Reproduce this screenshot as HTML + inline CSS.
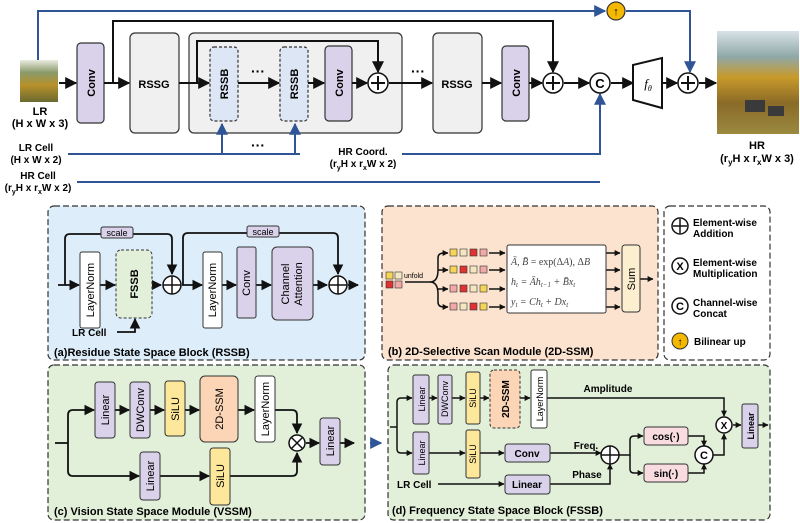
<!DOCTYPE html>
<html><head><meta charset="utf-8"><style>
html,body{margin:0;padding:0;background:#fff;}
svg{display:block;font-family:"Liberation Sans",sans-serif;}
.b{font-weight:bold;}
</style></head><body>
<svg width="800" height="523" viewBox="0 0 800 523" xmlns="http://www.w3.org/2000/svg">
<defs>
<marker id="ak" viewBox="0 0 10 10" refX="9" refY="5" markerWidth="6" markerHeight="6" orient="auto"><path d="M0,0 L10,5 L0,10 z" fill="#111"/></marker>
<marker id="as" viewBox="0 0 10 10" refX="9" refY="5" markerWidth="4" markerHeight="4" orient="auto"><path d="M0,0 L10,5 L0,10 z" fill="#111"/></marker>
<marker id="ab" viewBox="0 0 10 10" refX="9" refY="5" markerWidth="6" markerHeight="6" orient="auto"><path d="M0,0 L10,5 L0,10 z" fill="#2f5597"/></marker>
<linearGradient id="lr" x1="0" y1="0" x2="0" y2="1"><stop offset="0" stop-color="#e8ece0"/><stop offset="0.3" stop-color="#8a9a6a"/><stop offset="0.6" stop-color="#b8902a"/><stop offset="1" stop-color="#6a6a30"/></linearGradient>
<linearGradient id="hr" x1="0" y1="0" x2="0" y2="1"><stop offset="0" stop-color="#d8e2e8"/><stop offset="0.25" stop-color="#8fa8a8"/><stop offset="0.45" stop-color="#c89a2a"/><stop offset="0.7" stop-color="#8a6a28"/><stop offset="1" stop-color="#9a8a40"/></linearGradient>
</defs>

<!-- ===== TOP ===== -->
<g fill="none" stroke-width="2">
<path d="M38,60 V11 H605" stroke="#2f5597" marker-end="url(#ab)"/>
<path d="M626,11 H690 V72" stroke="#2f5597" marker-end="url(#ab)"/>
<path d="M113,83 V21 H553 V72" stroke="#111" marker-end="url(#ak)"/>
<path d="M68,154 H300 M402,154 H600 V94" stroke="#2f5597" marker-end="url(#ab)"/>
<path d="M77,182 H600" stroke="#2f5597"/>
</g>
<rect x="20" y="60" width="38" height="42" fill="url(#lr)"/>
<text x="40" y="115" class="b" font-size="11" text-anchor="middle">LR</text>
<text x="40" y="127" class="b" font-size="11" text-anchor="middle">(H x W x 3)</text>
<rect x="189" y="33" width="213" height="100" rx="5" fill="#f0f0f0" stroke="#333" stroke-width="1.2"/>
<path d="M197,83 V41 H378 V72" fill="none" stroke="#111" stroke-width="2" marker-end="url(#ak)"/>
<g fill="none" stroke-width="2" stroke="#2f5597">
<path d="M222,154 V124" marker-end="url(#ab)"/>
<path d="M295,154 V124" marker-end="url(#ab)"/>
</g>
<rect x="77" y="43" width="27" height="80" rx="4" fill="#d9d2ea" stroke="#333" stroke-width="1.2"/>
<text transform="translate(95,83) rotate(-90)" class="b" font-size="11" text-anchor="middle">Conv</text>
<rect x="130" y="33" width="49" height="100" rx="5" fill="#f0f0f0" stroke="#333" stroke-width="1.2"/>
<text x="154" y="88" class="b" font-size="11" text-anchor="middle">RSSG</text>
<rect x="210" y="47" width="28" height="74" rx="4" fill="#dce6f5" stroke="#333" stroke-width="1.2" stroke-dasharray="3,2"/>
<text transform="translate(228,84) rotate(-90)" class="b" font-size="11" text-anchor="middle">RSSB</text>
<rect x="280" y="47" width="28" height="74" rx="4" fill="#dce6f5" stroke="#333" stroke-width="1.2" stroke-dasharray="3,2"/>
<text transform="translate(298,84) rotate(-90)" class="b" font-size="11" text-anchor="middle">RSSB</text>
<rect x="325" y="46" width="27" height="75" rx="4" fill="#d9d2ea" stroke="#333" stroke-width="1.2"/>
<text transform="translate(343,83) rotate(-90)" class="b" font-size="11" text-anchor="middle">Conv</text>
<rect x="433" y="33" width="49" height="100" rx="5" fill="#f0f0f0" stroke="#333" stroke-width="1.2"/>
<text x="457" y="88" class="b" font-size="11" text-anchor="middle">RSSG</text>
<rect x="502" y="46" width="27" height="75" rx="4" fill="#d9d2ea" stroke="#333" stroke-width="1.2"/>
<text transform="translate(520,83) rotate(-90)" class="b" font-size="11" text-anchor="middle">Conv</text>
<g stroke="#111" stroke-width="2" fill="none">
<path d="M59,83 H76" marker-end="url(#ak)"/>
<path d="M104,83 H129" marker-end="url(#ak)"/>
<path d="M179,83 H209" marker-end="url(#ak)"/>
<path d="M238,83 H279" marker-end="url(#ak)"/>
<path d="M308,83 H324" marker-end="url(#ak)"/>
<path d="M352,83 H367" marker-end="url(#ak)"/>
<path d="M389,83 H432" marker-end="url(#ak)"/>
<path d="M482,83 H501" marker-end="url(#ak)"/>
<path d="M529,83 H542" marker-end="url(#ak)"/>
<path d="M564,83 H589" marker-end="url(#ak)"/>
<path d="M611,83 H633" marker-end="url(#ak)"/>
<path d="M662,83 H677" marker-end="url(#ak)"/>
<path d="M699,83 H716" marker-end="url(#ak)"/>
</g>
<text x="258" y="76" class="b" font-size="14" text-anchor="middle">···</text>
<text x="258" y="150" class="b" font-size="14" text-anchor="middle">···</text>
<text x="418" y="76" class="b" font-size="14" text-anchor="middle">···</text>
<g fill="#fff" stroke="#111" stroke-width="1.5">
<circle cx="378" cy="83" r="10"/><circle cx="553" cy="83" r="10"/><circle cx="600" cy="83" r="10"/><circle cx="688" cy="83" r="10"/>
</g>
<g stroke="#111" stroke-width="2">
<path d="M371,83 H385 M378,76 V90"/><path d="M546,83 H560 M553,76 V90"/><path d="M681,83 H695 M688,76 V90"/>
</g>
<text x="600" y="88" class="b" font-size="13" text-anchor="middle">C</text>
<circle cx="616" cy="11" r="9" fill="#f5b800" stroke="#333" stroke-width="1.2"/>
<text x="616" y="15" class="b" font-size="11" text-anchor="middle">↑</text>
<path d="M633,65 L662,58 L662,108 L633,100 Z" fill="#fff" stroke="#111" stroke-width="2"/>
<text x="648" y="88" font-size="13" font-style="italic" text-anchor="middle" font-family="Liberation Serif">f<tspan font-size="8" dy="3">θ</tspan></text>
<rect x="717" y="31" width="82" height="103" fill="url(#hr)"/>
<rect x="745" y="100" width="20" height="12" fill="#3a3a3a"/><rect x="768" y="106" width="16" height="10" fill="#3a3a3a"/>
<text x="757" y="149" class="b" font-size="11" text-anchor="middle">HR</text>
<text x="757" y="162" class="b" font-size="11" text-anchor="middle">(r<tspan font-size="8" dy="3">y</tspan><tspan dy="-3">H x r</tspan><tspan font-size="8" dy="3">x</tspan><tspan dy="-3">W x 3)</tspan></text>
<text x="36" y="151" class="b" font-size="10" text-anchor="middle">LR Cell</text>
<text x="36" y="163" class="b" font-size="10" text-anchor="middle">(H x W x 2)</text>
<text x="38" y="179" class="b" font-size="10" text-anchor="middle">HR Cell</text>
<text x="38" y="191" class="b" font-size="10" text-anchor="middle">(r<tspan font-size="7" dy="3">y</tspan><tspan dy="-3">H x r</tspan><tspan font-size="7" dy="3">x</tspan><tspan dy="-3">W x 2)</tspan></text>
<text x="363" y="155" class="b" font-size="10" text-anchor="middle">HR Coord.</text>
<text x="363" y="167" class="b" font-size="10" text-anchor="middle">(r<tspan font-size="7" dy="3">y</tspan><tspan dy="-3">H x r</tspan><tspan font-size="7" dy="3">x</tspan><tspan dy="-3">W x 2)</tspan></text>

<!-- ===== PANEL A ===== -->
<rect x="48" y="206" width="317" height="154" rx="6" fill="#ddeefa" stroke="#333" stroke-width="1.2" stroke-dasharray="6,3"/>
<g stroke="#111" stroke-width="1.8" fill="none">
<path d="M58,285 H79" marker-end="url(#ak)"/>
<path d="M65,285 V239 Q65,234 70,234 H167 Q172,234 172,239 V274" marker-end="url(#ak)"/>
<path d="M100,285 H115" marker-end="url(#ak)"/>
<path d="M152,285 H161" marker-end="url(#ak)"/>
<path d="M182,285 H202" marker-end="url(#ak)"/>
<path d="M183,285 V238 Q183,233 188,233 H333 Q338,233 338,238 V274" marker-end="url(#ak)"/>
<path d="M222,285 H236" marker-end="url(#ak)"/>
<path d="M256,285 H271" marker-end="url(#ak)"/>
<path d="M313,285 H327" marker-end="url(#ak)"/>
<path d="M348,285 H358" marker-end="url(#ak)"/>
<path d="M117,332 H135 V319" marker-end="url(#ak)"/>
</g>
<rect x="101" y="227" width="32" height="11" rx="2" fill="#d9d2ea" stroke="#333"/>
<text x="117" y="236" font-size="9" text-anchor="middle">scale</text>
<rect x="247" y="226" width="32" height="11" rx="2" fill="#d9d2ea" stroke="#333"/>
<text x="263" y="235" font-size="9" text-anchor="middle">scale</text>
<rect x="80" y="252" width="20" height="76" rx="2" fill="#fff" stroke="#333"/>
<text transform="translate(94,290) rotate(-90)" font-size="11" text-anchor="middle">LayerNorm</text>
<rect x="116" y="250" width="36" height="68" rx="5" fill="#e2efd9" stroke="#333" stroke-dasharray="3,2"/>
<text transform="translate(138,284) rotate(-90)" class="b" font-size="11" text-anchor="middle">FSSB</text>
<circle cx="172" cy="285" r="9" fill="#fff" stroke="#111" stroke-width="1.5"/><path d="M163,285 H181 M172,276 V294" stroke="#111" stroke-width="1.5"/>
<rect x="203" y="252" width="19" height="76" rx="2" fill="#fff" stroke="#333"/>
<text transform="translate(216,290) rotate(-90)" font-size="11" text-anchor="middle">LayerNorm</text>
<rect x="237" y="247" width="19" height="71" rx="2" fill="#d9d2ea" stroke="#333"/>
<text transform="translate(250,283) rotate(-90)" font-size="11" text-anchor="middle">Conv</text>
<rect x="272" y="247" width="41" height="73" rx="5" fill="#d9d2ea" stroke="#333"/>
<text transform="translate(289,284) rotate(-90)" font-size="11" text-anchor="middle">Channel</text>
<text transform="translate(302,284) rotate(-90)" font-size="11" text-anchor="middle">Attention</text>
<circle cx="338" cy="285" r="9" fill="#fff" stroke="#111" stroke-width="1.5"/><path d="M329,285 H347 M338,276 V294" stroke="#111" stroke-width="1.5"/>
<text x="72" y="336" class="b" font-size="10">LR Cell</text>
<text x="54" y="356" class="b" font-size="11">(a)Residue State Space Block (RSSB)</text>

<!-- ===== PANEL B ===== -->
<rect x="382" y="206" width="276" height="154" rx="6" fill="#fbe3cf" stroke="#333" stroke-width="1.2" stroke-dasharray="6,3"/>
<g font-size="6" text-anchor="middle" stroke="#333" stroke-width="0.6">
<rect x="386" y="272" width="7" height="7" fill="#f6d45a"/><rect x="395" y="272" width="7" height="7" fill="#f3e6c0"/>
<rect x="386" y="281" width="7" height="7" fill="#d33"/><rect x="395" y="281" width="7" height="7" fill="#f0a8a8"/>
</g>
<text x="404" y="278" font-size="7">unfold</text>
<g stroke="#111" stroke-width="1.5" fill="none">
<path d="M405,282 H430"/>
<path d="M430,282 Q438,282 438,270 V258 Q438,253 444,253 H448" marker-end="url(#as)"/>
<path d="M438,270 H448" marker-end="url(#as)"/>
<path d="M430,282 Q438,282 438,294 V302 Q438,307 444,307 H448" marker-end="url(#as)"/>
<path d="M438,289 H448" marker-end="url(#as)"/>
<path d="M489,253 H505" marker-end="url(#as)"/><path d="M489,270 H505" marker-end="url(#as)"/><path d="M489,289 H505" marker-end="url(#as)"/><path d="M489,307 H505" marker-end="url(#as)"/>
<path d="M606,253 H620" marker-end="url(#as)"/><path d="M606,270 H620" marker-end="url(#as)"/><path d="M606,289 H620" marker-end="url(#as)"/><path d="M606,307 H620" marker-end="url(#as)"/>
<path d="M640,279 H653" marker-end="url(#as)"/>
</g>
<g stroke="#333" stroke-width="0.6">
<rect x="450" y="249" width="7" height="7" fill="#f6d45a"/><rect x="460" y="249" width="7" height="7" fill="#f3e6c0"/><rect x="470" y="249" width="7" height="7" fill="#d33"/><rect x="480" y="249" width="7" height="7" fill="#f0a8a8"/>
<rect x="450" y="266" width="7" height="7" fill="#f6d45a"/><rect x="460" y="266" width="7" height="7" fill="#d33"/><rect x="470" y="266" width="7" height="7" fill="#f3e6c0"/><rect x="480" y="266" width="7" height="7" fill="#f0a8a8"/>
<rect x="450" y="285" width="7" height="7" fill="#f0a8a8"/><rect x="460" y="285" width="7" height="7" fill="#d33"/><rect x="470" y="285" width="7" height="7" fill="#f3e6c0"/><rect x="480" y="285" width="7" height="7" fill="#f6d45a"/>
<rect x="450" y="303" width="7" height="7" fill="#f0a8a8"/><rect x="460" y="303" width="7" height="7" fill="#f3e6c0"/><rect x="470" y="303" width="7" height="7" fill="#d33"/><rect x="480" y="303" width="7" height="7" fill="#f6d45a"/>
</g>
<rect x="507" y="245" width="99" height="68" rx="2" fill="#fff" stroke="#333"/>
<g font-family="Liberation Serif" font-size="10" fill="#444">
<text x="511" y="265"><tspan font-style="italic">Ā, B̄</tspan> = exp(Δ<tspan font-style="italic">A</tspan>), Δ<tspan font-style="italic">B</tspan></text>
<text x="511" y="285" font-style="italic">h<tspan font-size="7" dy="2">t</tspan><tspan dy="-2"> = Āh</tspan><tspan font-size="7" dy="2">t−1</tspan><tspan dy="-2"> + B̄x</tspan><tspan font-size="7" dy="2">t</tspan></text>
<text x="511" y="305" font-style="italic">y<tspan font-size="7" dy="2">t</tspan><tspan dy="-2"> = Ch</tspan><tspan font-size="7" dy="2">t</tspan><tspan dy="-2"> + Dx</tspan><tspan font-size="7" dy="2">t</tspan></text>
</g>
<rect x="622" y="245" width="18" height="67" rx="3" fill="#fcefd0" stroke="#333"/>
<text transform="translate(635,279) rotate(-90)" font-size="11" text-anchor="middle">Sum</text>
<text x="388" y="355" class="b" font-size="11">(b) 2D-Selective Scan Module (2D-SSM)</text>

<!-- ===== LEGEND ===== -->
<rect x="664" y="206" width="106" height="154" rx="6" fill="#fff" stroke="#333" stroke-width="1.2" stroke-dasharray="6,3"/>
<circle cx="680" cy="226" r="8" fill="#fff" stroke="#111" stroke-width="1.5"/><path d="M673,226 H687 M680,219 V233" stroke="#111" stroke-width="1.5"/>
<text x="693" y="226" class="b" font-size="10">Element-wise</text><text x="693" y="237" class="b" font-size="10">Addition</text>
<circle cx="680" cy="266" r="8" fill="#fff" stroke="#111" stroke-width="1.5"/><text x="680" y="270" class="b" font-size="11" text-anchor="middle">X</text>
<text x="693" y="266" class="b" font-size="10">Element-wise</text><text x="693" y="277" class="b" font-size="10">Multiplication</text>
<circle cx="680" cy="306" r="8" fill="#fff" stroke="#111" stroke-width="1.5"/><text x="680" y="310" class="b" font-size="11" text-anchor="middle">C</text>
<text x="693" y="306" class="b" font-size="10">Channel-wise</text><text x="693" y="317" class="b" font-size="10">Concat</text>
<circle cx="680" cy="341" r="8" fill="#f5b800" stroke="#333"/><text x="680" y="345" class="b" font-size="10" text-anchor="middle">↑</text>
<text x="694" y="345" class="b" font-size="10">Bilinear up</text>

<!-- ===== PANEL C ===== -->
<rect x="48" y="365" width="317" height="155" rx="6" fill="#e2efd9" stroke="#333" stroke-width="1.2" stroke-dasharray="6,3"/>
<g stroke="#111" stroke-width="1.8" fill="none">
<path d="M55,443 H68"/>
<path d="M68,443 V415 Q68,410 73,410 H94" marker-end="url(#ak)"/>
<path d="M68,443 V471 Q68,476 73,476 H139" marker-end="url(#ak)"/>
<path d="M115,410 H129" marker-end="url(#ak)"/>
<path d="M150,410 H164" marker-end="url(#ak)"/>
<path d="M185,410 H199" marker-end="url(#ak)"/>
<path d="M238,410 H254" marker-end="url(#ak)"/>
<path d="M275,410 H292 Q297,410 297,415 V433" marker-end="url(#ak)"/>
<path d="M160,476 H209" marker-end="url(#ak)"/>
<path d="M230,476 H292 Q297,476 297,471 V453" marker-end="url(#ak)"/>
<path d="M306,443 H319" marker-end="url(#ak)"/>
<path d="M340,443 H354" marker-end="url(#ak)"/>
</g>
<path d="M370,443 H381" stroke="#2f5597" stroke-width="2" marker-end="url(#ab)"/>
<rect x="95" y="382" width="20" height="56" rx="3" fill="#d9d2ea" stroke="#333"/>
<text transform="translate(109,410) rotate(-90)" font-size="11" text-anchor="middle">Linear</text>
<rect x="130" y="382" width="20" height="56" rx="3" fill="#d9d2ea" stroke="#333"/>
<text transform="translate(144,410) rotate(-90)" font-size="11" text-anchor="middle">DWConv</text>
<rect x="165" y="381" width="20" height="55" rx="3" fill="#fde79a" stroke="#333"/>
<text transform="translate(179,409) rotate(-90)" font-size="11" text-anchor="middle">SiLU</text>
<rect x="200" y="376" width="38" height="66" rx="5" fill="#fbd5b5" stroke="#333"/>
<text transform="translate(223,409) rotate(-90)" font-size="11" text-anchor="middle">2D-SSM</text>
<rect x="255" y="376" width="20" height="66" rx="3" fill="#fff" stroke="#333"/>
<text transform="translate(269,409) rotate(-90)" font-size="11" text-anchor="middle">LayerNorm</text>
<circle cx="297" cy="443" r="8" fill="#fff" stroke="#111" stroke-width="1.5"/><path d="M291,437 L303,449 M303,437 L291,449" stroke="#111" stroke-width="1.5"/>
<rect x="320" y="418" width="20" height="47" rx="3" fill="#d9d2ea" stroke="#333"/>
<text transform="translate(334,441) rotate(-90)" font-size="11" text-anchor="middle">Linear</text>
<rect x="140" y="452" width="20" height="48" rx="3" fill="#d9d2ea" stroke="#333"/>
<text transform="translate(154,476) rotate(-90)" font-size="11" text-anchor="middle">Linear</text>
<rect x="210" y="448" width="20" height="57" rx="3" fill="#fde79a" stroke="#333"/>
<text transform="translate(224,476) rotate(-90)" font-size="11" text-anchor="middle">SiLU</text>
<text x="54" y="515" class="b" font-size="11">(c) Vision State Space Module (VSSM)</text>

<!-- ===== PANEL D ===== -->
<rect x="388" y="365" width="382" height="155" rx="6" fill="#e2efd9" stroke="#333" stroke-width="1.2" stroke-dasharray="6,3"/>
<g stroke="#111" stroke-width="1.5" fill="none">
<path d="M390,427 H397"/>
<path d="M397,427 V402 Q397,398 401,398 H412" marker-end="url(#as)"/>
<path d="M397,427 V449 Q397,453 401,453 H412" marker-end="url(#as)"/>
<path d="M429,398 H437" marker-end="url(#as)"/>
<path d="M452,398 H465" marker-end="url(#as)"/>
<path d="M480,398 H489" marker-end="url(#as)"/>
<path d="M520,398 H530" marker-end="url(#as)"/>
<path d="M547,398 H724 V416" marker-end="url(#as)"/>
<path d="M429,453 H465" marker-end="url(#as)"/>
<path d="M480,453 H504" marker-end="url(#as)"/>
<path d="M550,453 H601" marker-end="url(#as)"/>
<path d="M438,484 H504" marker-end="url(#as)"/>
<path d="M550,484 H610 V464" marker-end="url(#as)"/>
<path d="M619,455 H630 V440 Q630,436 634,436 H643" marker-end="url(#as)"/>
<path d="M630,455 V469 Q630,473 634,473 H643" marker-end="url(#as)"/>
<path d="M688,436 H704 V446" marker-end="url(#as)"/>
<path d="M688,473 H704 V464" marker-end="url(#as)"/>
<path d="M713,455 H724 V434" marker-end="url(#as)"/>
<path d="M733,425 H741" marker-end="url(#as)"/>
<path d="M758,425 H768" marker-end="url(#as)"/>
</g>
<rect x="413" y="375" width="16" height="49" rx="2" fill="#d9d2ea" stroke="#333"/>
<text transform="translate(425,399) rotate(-90)" font-size="9" text-anchor="middle">Linear</text>
<rect x="438" y="375" width="14" height="49" rx="2" fill="#d9d2ea" stroke="#333"/>
<text transform="translate(448,399) rotate(-90)" font-size="9" text-anchor="middle">DWConv</text>
<rect x="466" y="372" width="14" height="52" rx="2" fill="#fde79a" stroke="#333"/>
<text transform="translate(476,398) rotate(-90)" font-size="9" text-anchor="middle">SiLU</text>
<rect x="490" y="370" width="30" height="58" rx="4" fill="#fbd5b5" stroke="#333" stroke-dasharray="3,2"/>
<text transform="translate(509,399) rotate(-90)" class="b" font-size="10" text-anchor="middle">2D-SSM</text>
<rect x="531" y="370" width="16" height="58" rx="2" fill="#fff" stroke="#333"/>
<text transform="translate(543,399) rotate(-90)" font-size="9" text-anchor="middle">LayerNorm</text>
<text x="608" y="392" class="b" font-size="10" text-anchor="middle">Amplitude</text>
<rect x="413" y="432" width="16" height="42" rx="2" fill="#d9d2ea" stroke="#333"/>
<text transform="translate(425,453) rotate(-90)" font-size="9" text-anchor="middle">Linear</text>
<rect x="466" y="430" width="14" height="48" rx="2" fill="#fde79a" stroke="#333"/>
<text transform="translate(476,454) rotate(-90)" font-size="9" text-anchor="middle">SiLU</text>
<rect x="505" y="444" width="45" height="18" rx="3" fill="#d9d2ea" stroke="#333"/>
<text x="527" y="457" class="b" font-size="10" text-anchor="middle">Conv</text>
<rect x="505" y="475" width="45" height="19" rx="3" fill="#d9d2ea" stroke="#333"/>
<text x="527" y="488" class="b" font-size="10" text-anchor="middle">Linear</text>
<text x="397" y="488" class="b" font-size="10">LR Cell</text>
<text x="586" y="449" class="b" font-size="10" text-anchor="middle">Freq.</text>
<text x="587" y="478" class="b" font-size="10" text-anchor="middle">Phase</text>
<circle cx="610" cy="455" r="9" fill="#fff" stroke="#111" stroke-width="1.5"/><path d="M601,455 H619 M610,446 V464" stroke="#111" stroke-width="1.5"/>
<rect x="644" y="427" width="44" height="18" rx="3" fill="#f8dce0" stroke="#333"/>
<text x="666" y="440" class="b" font-size="10" text-anchor="middle">cos(·)</text>
<rect x="644" y="464" width="44" height="18" rx="3" fill="#f8dce0" stroke="#333"/>
<text x="666" y="477" class="b" font-size="10" text-anchor="middle">sin(·)</text>
<circle cx="704" cy="455" r="9" fill="#fff" stroke="#111" stroke-width="1.5"/><text x="704" y="459" class="b" font-size="11" text-anchor="middle">C</text>
<circle cx="724" cy="425" r="8" fill="#fff" stroke="#111" stroke-width="1.5"/><text x="724" y="429" class="b" font-size="10" text-anchor="middle">X</text>
<rect x="742" y="404" width="16" height="44" rx="2" fill="#d9d2ea" stroke="#333"/>
<text transform="translate(754,426) rotate(-90)" class="b" font-size="9" text-anchor="middle">Linear</text>
<text x="392" y="514" class="b" font-size="11">(d) Frequency State Space Block (FSSB)</text>
</svg>
</body></html>
